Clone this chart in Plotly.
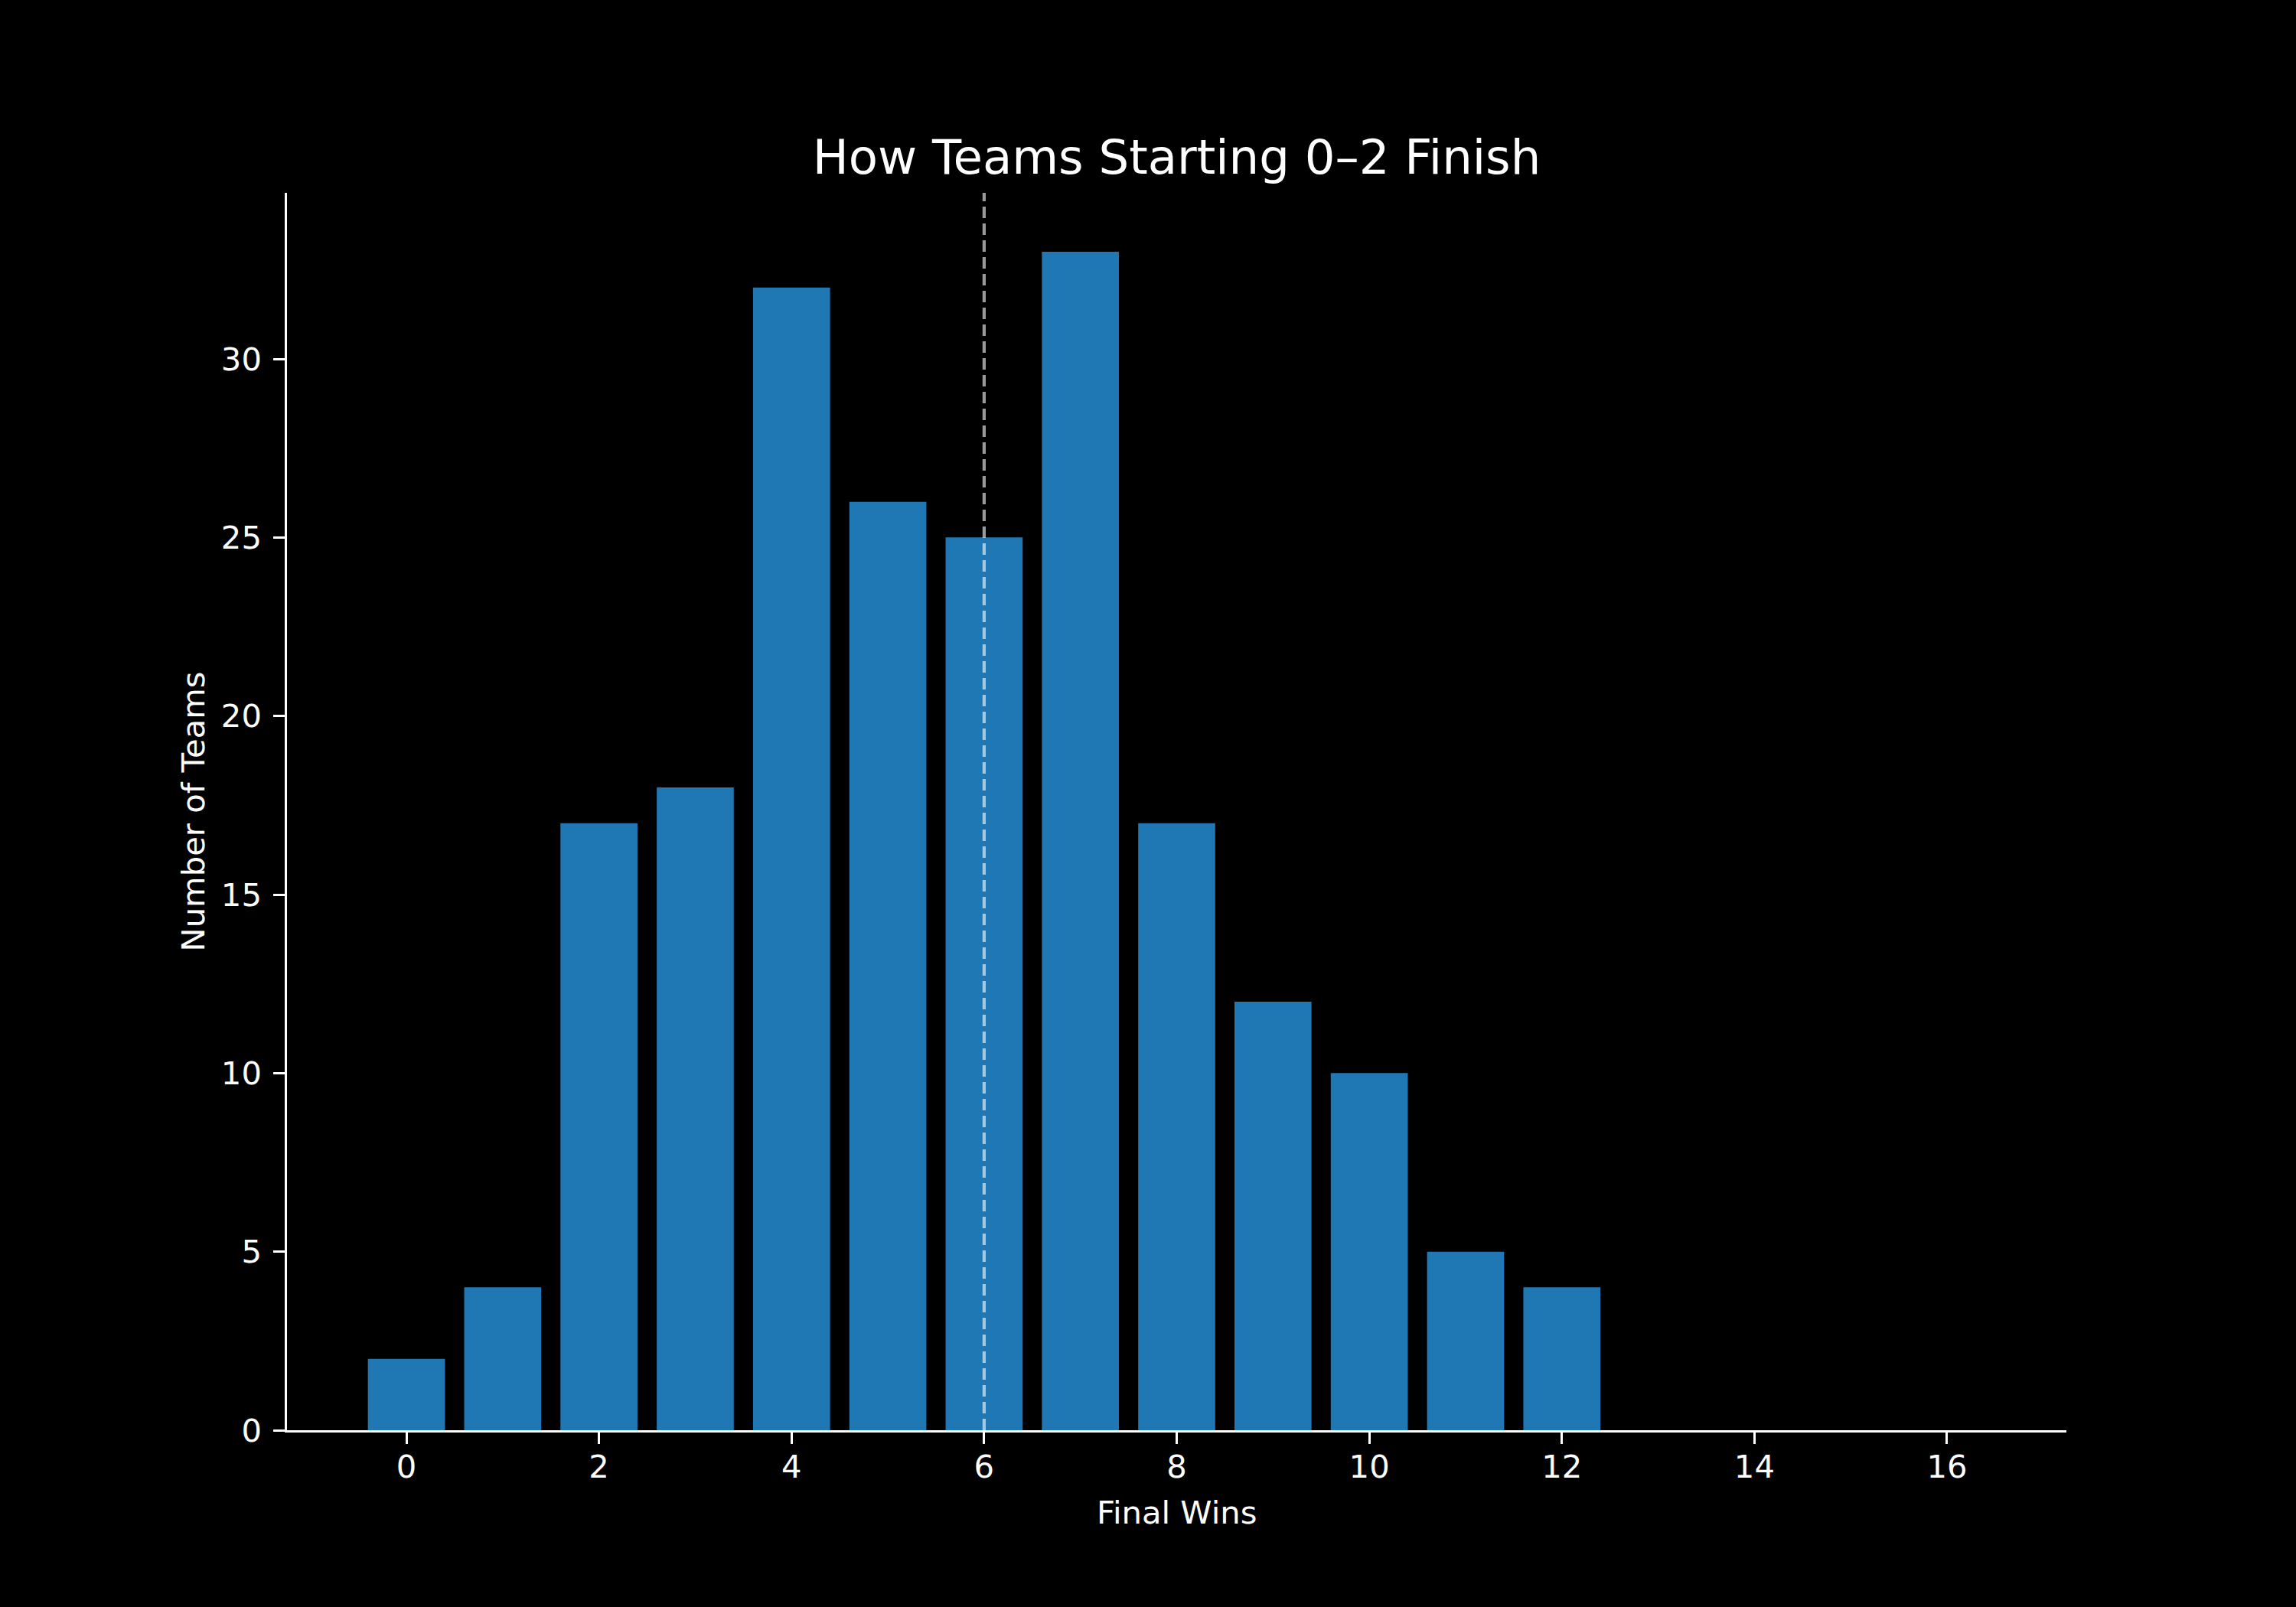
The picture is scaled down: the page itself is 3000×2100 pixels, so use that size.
import plotly.graph_objects as go

final_wins = [0, 1, 2, 3, 4, 5, 6, 7, 8, 9, 10, 11, 12, 13, 14, 15, 16]
team_counts = [2, 4, 17, 18, 32, 26, 25, 33, 17, 12, 10, 5, 4, 0, 0, 0, 0]
reference_wins = 6
x_ticks = [0, 2, 4, 6, 8, 10, 12, 14, 16]
y_ticks = [0, 5, 10, 15, 20, 25, 30]

W, H = 3000, 2100
L, R, T, B = 375, 300, 252, 231
font = "DejaVu Sans"
fs = 41.7
title_fs = 62.5

fig = go.Figure()
fig.add_trace(go.Bar(
    x=final_wins, y=team_counts, width=0.8,
    marker=dict(color="#1f77b4", line=dict(width=0)),
    showlegend=False,
))

fig.add_shape(type="line", xref="x", yref="paper",
              x0=reference_wins, x1=reference_wins, y0=0, y1=1,
              line=dict(color="rgba(255,255,255,0.6)", width=4.2, dash="15px,7px"))

axis_common = dict(
    showgrid=False, zeroline=False, showline=True, linecolor="white", linewidth=3.3,
    ticks="outside", ticklen=14.6, tickwidth=3.3, tickcolor="white",
    tickfont=dict(family=font, size=fs, color="white"),
)

fig.update_layout(
    width=W, height=H,
    margin=dict(l=L, r=R, t=T, b=B, pad=0),
    paper_bgcolor="black", plot_bgcolor="black",
    font=dict(family=font, color="white"),
    title=dict(text="How Teams Starting 0–2 Finish", x=(L + (W - R)) / 2 / W, xanchor="center",
               xref="container", yref="container", y=1 - 205 / H, yanchor="middle",
               font=dict(family=font, size=title_fs, color="white")),
    xaxis=dict(range=[-1.24, 17.24], tickvals=x_ticks, ticklabelstandoff=-6, **axis_common),
    yaxis=dict(range=[0, 34.65], tickvals=y_ticks, ticklabelstandoff=7, **axis_common),
    annotations=[
        dict(text="Final Wins", xref="paper", yref="paper", x=0.5, y=-(1976 - 1869) / (H - T - B),
             xanchor="center", yanchor="middle", showarrow=False,
             font=dict(family=font, size=fs, color="white")),
        dict(text="Number of Teams", xref="paper", yref="paper", x=(252 - L) / (W - L - R), y=0.5,
             xanchor="center", yanchor="middle", textangle=-90, showarrow=False,
             font=dict(family=font, size=fs, color="white")),
    ],
)

fig.write_html(
    "out.html",
    config={"displayModeBar": False},
    post_script="document.body.style.margin='0';document.body.style.background='black';",
)
